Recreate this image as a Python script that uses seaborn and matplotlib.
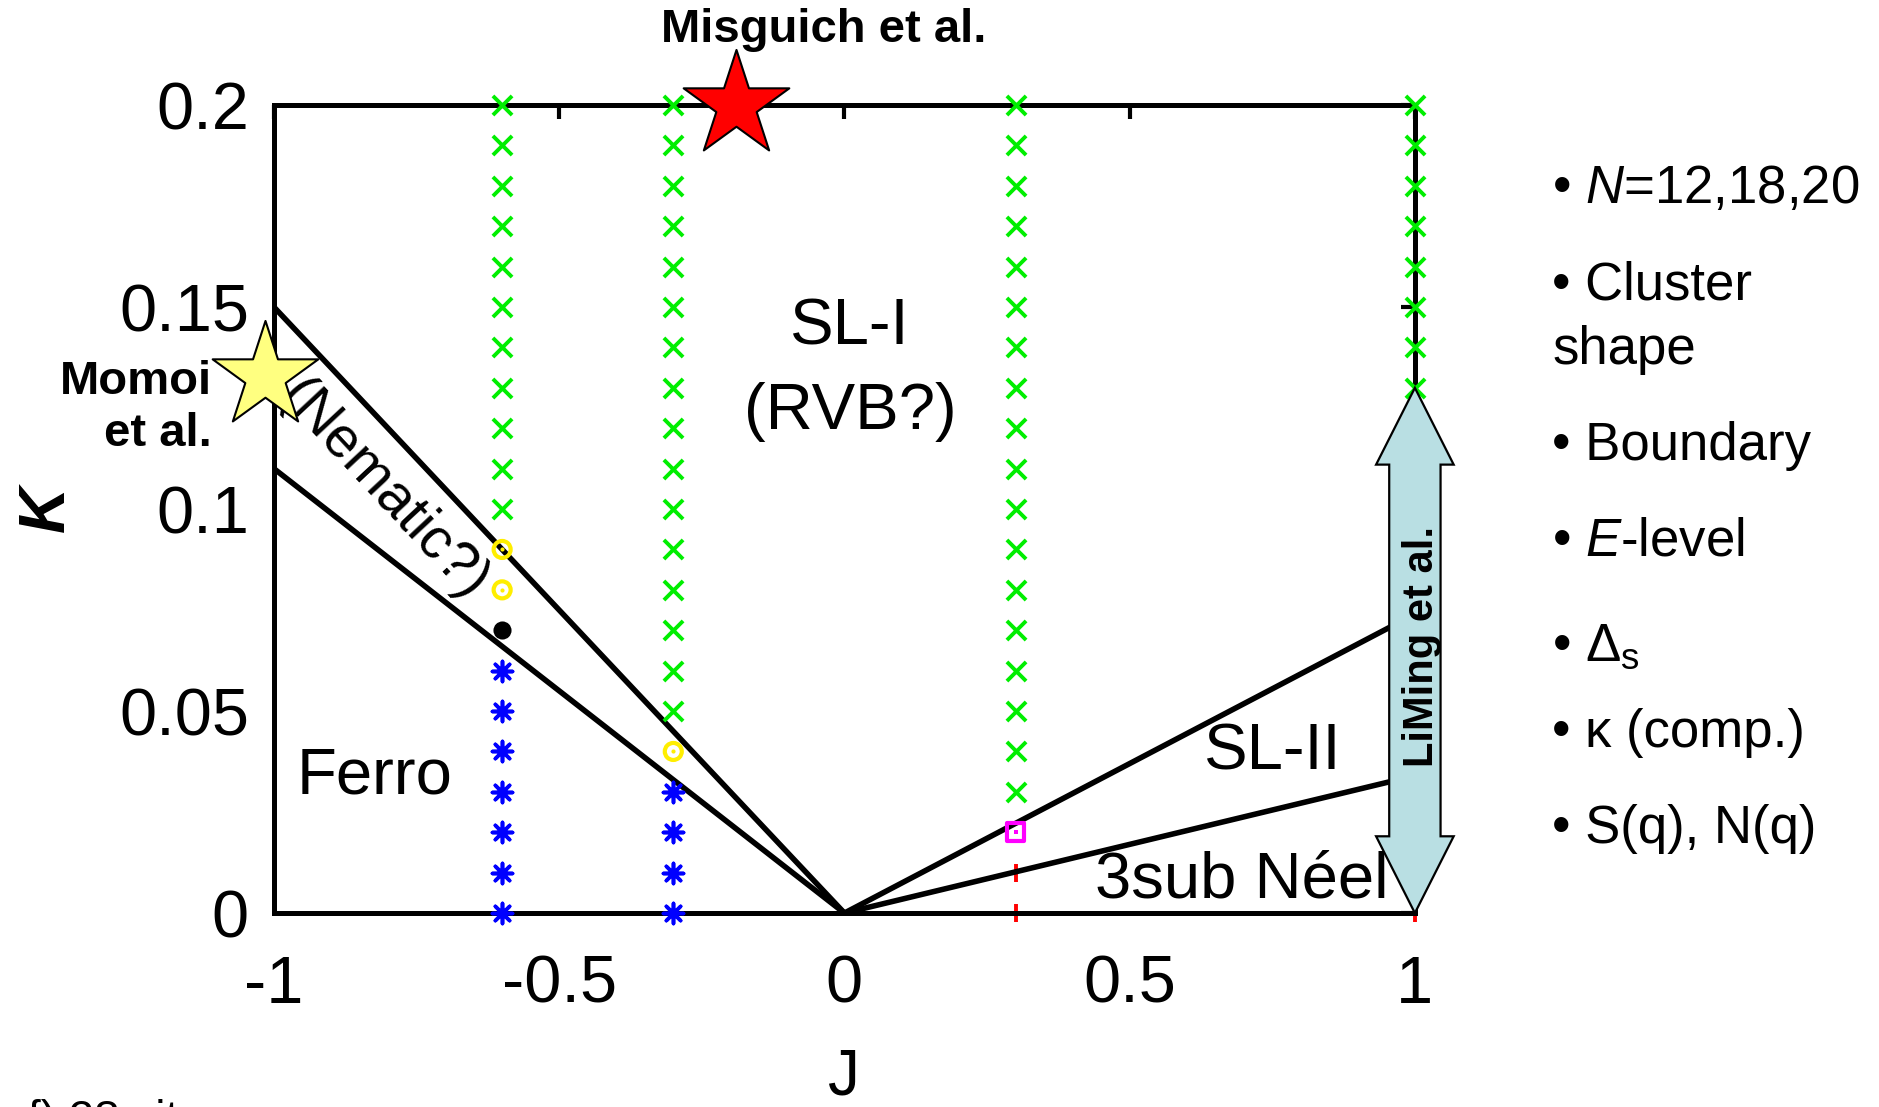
import numpy as np
import pandas as pd
import matplotlib
matplotlib.use("Agg")
import matplotlib.pyplot as plt
from matplotlib.patches import Polygon
import seaborn as sns

# ---------------- data ----------------
green_J = [-0.6] * 11 + [-0.3] * 16 + [0.3] * 18 + [1.0] * 8
green_K = [0.20, 0.19, 0.18, 0.17, 0.16, 0.15, 0.14, 0.13, 0.12, 0.11, 0.10,
           0.20, 0.19, 0.18, 0.17, 0.16, 0.15, 0.14, 0.13, 0.12, 0.11, 0.10,
           0.09, 0.08, 0.07, 0.06, 0.05,
           0.20, 0.19, 0.18, 0.17, 0.16, 0.15, 0.14, 0.13, 0.12, 0.11, 0.10,
           0.09, 0.08, 0.07, 0.06, 0.05, 0.04, 0.03,
           0.20, 0.19, 0.18, 0.17, 0.16, 0.15, 0.14, 0.13]
yellow_J = [-0.6, -0.6, -0.3]
yellow_K = [0.09, 0.08, 0.04]
black_J = [-0.6]
black_K = [0.07]
blue_J = [-0.6] * 7 + [-0.3] * 4
blue_K = [0.06, 0.05, 0.04, 0.03, 0.02, 0.01, 0.00,
          0.03, 0.02, 0.01, 0.00]
magenta_J = [0.3]
magenta_K = [0.02]
red_J = [0.3, 0.3, 1.0]
red_K = [0.01, 0.00, 0.00]

boundary_left_upper_J = [-1.0, 0.0]
boundary_left_upper_K = [0.15, 0.0]
boundary_left_lower_J = [-1.0, 0.0]
boundary_left_lower_K = [0.11, 0.0]
boundary_right_upper_J = [0.0, 1.0]
boundary_right_upper_K = [0.0, 0.074]
boundary_right_lower_J = [0.0, 1.0]
boundary_right_lower_K = [0.0, 0.034]

star_momoi = (-1.015, 0.133)
star_misguich = (-0.19, 0.2)
arrow_J = 1.0
arrow_K = [0.0, 0.13]

xticks = [-1, -0.5, 0, 0.5, 1]
xtick_labels = ["-1", "-0.5", "0", "0.5", "1"]
yticks = [0, 0.05, 0.1, 0.15, 0.2]
ytick_labels = ["0", "0.05", "0.1", "0.15", "0.2"]

side_notes = [r"• $\mathit{N}$=12,18,20", "• Cluster", "shape", "• Boundary",
              r"• $\mathit{E}$-level", r"• $\Delta_\mathrm{s}$", "• κ (comp.)",
              "• S(q), N(q)"]
side_notes_y = [158, 238, 292, 372, 452, 540, 612, 692]  # layout (shown px)

# ---------------- style ----------------
sns.set_theme(style="white")
plt.rcParams["font.family"] = ["Liberation Sans", "DejaVu Sans"]
plt.rcParams["text.color"] = "black"
plt.rcParams["axes.labelcolor"] = "black"
plt.rcParams["mathtext.fontset"] = "custom"
plt.rcParams["mathtext.rm"] = "Liberation Sans"
plt.rcParams["mathtext.it"] = "Liberation Sans:italic"
plt.rcParams["mathtext.bf"] = "Liberation Sans:bold"

fig = plt.figure(figsize=(18.79, 11.07), dpi=100)
ax = fig.add_axes([0.1458, 0.1752, 0.6072, 0.7299])

# boundaries
for J, K in [(boundary_left_upper_J, boundary_left_upper_K),
             (boundary_left_lower_J, boundary_left_lower_K),
             (boundary_right_upper_J, boundary_right_upper_K),
             (boundary_right_lower_J, boundary_right_lower_K)]:
    sns.lineplot(x=J, y=K, color="black", lw=4.0, ax=ax, sort=False, zorder=3)

# markers
sns.scatterplot(x=green_J, y=green_K, marker="x", color="#00ee00", s=190,
                linewidth=2.8, ax=ax, clip_on=False, zorder=4)
sns.scatterplot(x=blue_J, y=blue_K, marker=(8, 2, 0), color="#0000ff", s=210,
                linewidth=2.6, ax=ax, clip_on=False, zorder=4)
sns.scatterplot(x=yellow_J, y=yellow_K, marker="o", s=150, facecolors="none",
                edgecolors="#ffee00", linewidths=3.0, ax=ax, clip_on=False, zorder=4)
sns.scatterplot(x=yellow_J, y=yellow_K, marker="o", s=9, color="#ffee00",
                linewidth=0, ax=ax, clip_on=False, zorder=4)
sns.scatterplot(x=black_J, y=black_K, marker="o", s=170, color="black",
                linewidth=0, ax=ax, clip_on=False, zorder=4)
sns.scatterplot(x=magenta_J, y=magenta_K, marker="s", s=160, facecolors="none",
                edgecolors="#ff00ff", linewidths=3.0, ax=ax, clip_on=False, zorder=4)
sns.scatterplot(x=magenta_J, y=magenta_K, marker="s", s=9, color="#ff00ff",
                linewidth=0, ax=ax, clip_on=False, zorder=4)
sns.scatterplot(x=red_J, y=red_K, marker="|", s=150, color="#ff0000",
                linewidth=2.8, ax=ax, clip_on=False, zorder=2)

# stars
sns.scatterplot(x=[star_momoi[0]], y=[star_momoi[1]], marker="*", s=6400,
                color="#ffff80", edgecolor="black", linewidth=1.5, ax=ax,
                clip_on=False, zorder=6)
sns.scatterplot(x=[star_misguich[0]], y=[star_misguich[1]], marker="*", s=6400,
                color="#ff0000", edgecolor="black", linewidth=1.5, ax=ax,
                clip_on=False, zorder=6)

# double arrow (LiMing et al.)
c = arrow_J
k0, k1 = arrow_K
sw, hw, hl = 0.045, 0.068, 0.019
verts = [(c, k1), (c + hw, k1 - hl), (c + sw, k1 - hl), (c + sw, k0 + hl),
         (c + hw, k0 + hl), (c, k0), (c - hw, k0 + hl), (c - sw, k0 + hl),
         (c - sw, k1 - hl), (c - hw, k1 - hl)]
ax.add_patch(Polygon(verts, closed=True, facecolor="#b9dfe3", edgecolor="black",
                     lw=1.6, clip_on=False, zorder=7))
ax.text(c + 0.012, 0.066, "LiMing et al.", rotation=90, ha="center", va="center",
        fontsize=30, fontweight="bold", zorder=8)

# axes styling
ax.set_xlim(-1, 1)
ax.set_ylim(0, 0.2)
ax.set_xticks(xticks)
ax.set_xticklabels(xtick_labels)
ax.set_yticks(yticks)
ax.set_yticklabels(ytick_labels)
ax.tick_params(axis="both", direction="in", length=10, width=3, top=True,
               right=True, labelsize=48, colors="black")
ax.tick_params(axis="x", pad=30)
ax.tick_params(axis="y", pad=18)
for sp in ax.spines.values():
    sp.set_visible(True)
    sp.set_linewidth(3.6)
    sp.set_color("black")
ax.set_xlabel("J", fontsize=46, labelpad=22)
ax.set_ylabel("K", fontsize=46, style="italic", fontweight="bold", labelpad=30)
ax.grid(False)

# phase labels
ax.text(0.01, 0.145, "SL-I", fontsize=47, ha="center", va="center", zorder=5)
ax.text(0.01, 0.124, "(RVB?)", fontsize=47, ha="center", va="center", zorder=5)
ax.text(-0.824, 0.0338, "Ferro", fontsize=47, ha="center", va="center", zorder=5)
ax.text(0.75, 0.0398, "SL-II", fontsize=47, ha="center", va="center", zorder=5)
ax.text(0.697, 0.0080, "3sub Néel", fontsize=47, ha="center", va="center", zorder=5)
ax.text(-0.809, 0.1045, "(Nematic?)", fontsize=41, ha="center", va="center",
        rotation=-47, rotation_mode="anchor", zorder=5)

# literature labels
ax.text(-0.036, 0.2185, "Misguich et al.", fontsize=34, fontweight="bold",
        ha="center", va="center", clip_on=False)
ax.text(-1.109, 0.125, "Momoi\net al.", fontsize=34, fontweight="bold",
        ha="right", va="center", multialignment="right", linespacing=1.25,
        clip_on=False)

# side notes
for txt, yy in zip(side_notes, side_notes_y):
    fig.text(1552 / 1879, 1 - (yy * 1.1983) / 1107, txt, fontsize=38,
             ha="left", va="center")

fig.text(28 / 1879, 1 - 1099 / 1107, "f) 28 sites", fontsize=33, ha="left",
         va="top")

fig.savefig("out.png", dpi=100)
